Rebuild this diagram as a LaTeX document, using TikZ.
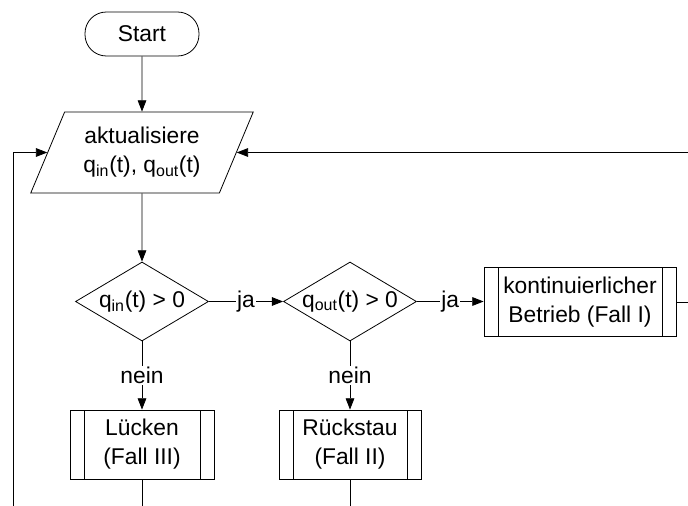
\documentclass[tikz,border=0pt]{standalone}
\usepackage{fontspec}
\setmainfont{Liberation Sans}
\usetikzlibrary{shapes.geometric}
\usetikzlibrary{arrows.meta}
\tikzset{ablauf/.style={draw, line width=0.6pt, align=center, inner sep=0pt},
         startstop/.style={ablauf, rounded corners=16pt,
                           minimum width=85.5pt, minimum height=33pt},
         eingabe/.style={ablauf, trapezium, trapezium left angle=63,
                         trapezium right angle=117, trapezium stretches=true,
                         minimum width=167pt, minimum height=60.75pt},
         frage/.style={ablauf, diamond, aspect=1.7,
                       minimum width=99.75pt, minimum height=59.25pt},
         unterprog/.style={ablauf, minimum height=51.75pt,
           path picture={\draw[line width=0.6pt]
             ([xshift=10.5pt]path picture bounding box.north west) --
             ([xshift=10.5pt]path picture bounding box.south west)
             ([xshift=-10.5pt]path picture bounding box.north east) --
             ([xshift=-10.5pt]path picture bounding box.south east);}},
         pfeil/.style={-{Triangle[length=8.5pt,width=6.5pt]}, line width=0.6pt},
         marke/.style={fill=white, inner sep=1pt}}

\begin{document}
\begin{tikzpicture}[x=0.75pt, y=-0.75pt, font=\fontsize{17.1}{21.75}\selectfont]
\useasboundingbox (0,0) rectangle (688,506);
% Die Knoten:
\node[startstop] (start) at (142,34) {Start};
\node[eingabe] (eingabe) at (142,152.5)
  {aktualisiere\\q\textsubscript{in}(t), q\textsubscript{out}(t)};
\node[frage] (qin) at (142,301.5) {q\textsubscript{in}(t) > 0};
\node[frage] (qout) at (350,301.5) {q\textsubscript{out}(t) > 0};
\node[unterprog, minimum width=144pt] (fallI) at (580,302)
  {kontinuierlicher\\Betrieb (Fall I)};
\node[unterprog, minimum width=108pt] (fallIII) at (142,444.5)
  {Lücken\\(Fall III)};
\node[unterprog, minimum width=106.5pt] (fallII) at (350,444.5)
  {Rückstau\\(Fall II)};
% Freie Enden am Rand:
\coordinate (unten) at (0,506);
\coordinate (rechts) at (688,0);
\coordinate (links) at (13,506);
% Die Verbindungen:
\draw[pfeil] (start) -- (eingabe);
\draw[pfeil] (eingabe) -- (qin);
\foreach \von/\nach in {qin/qout, qout/fallI}
  \draw[pfeil] (\von.east) -- node[marke] {ja} (\von.east -| \nach.west);
\foreach \von/\nach in {qin/fallIII, qout/fallII}
  \draw[pfeil] (\von) -- node[marke] {nein} (\nach);
\foreach \von in {fallIII, fallII}
  \draw[line width=0.6pt] (\von.south) -- (\von.south |- unten);
\draw[line width=0.6pt] (fallI.east) -- (fallI.east -| rechts);
\draw[pfeil] (eingabe.east -| rechts) -- (eingabe.east);
\draw[pfeil] (links) |- (eingabe.west);
\end{tikzpicture}
\end{document}
